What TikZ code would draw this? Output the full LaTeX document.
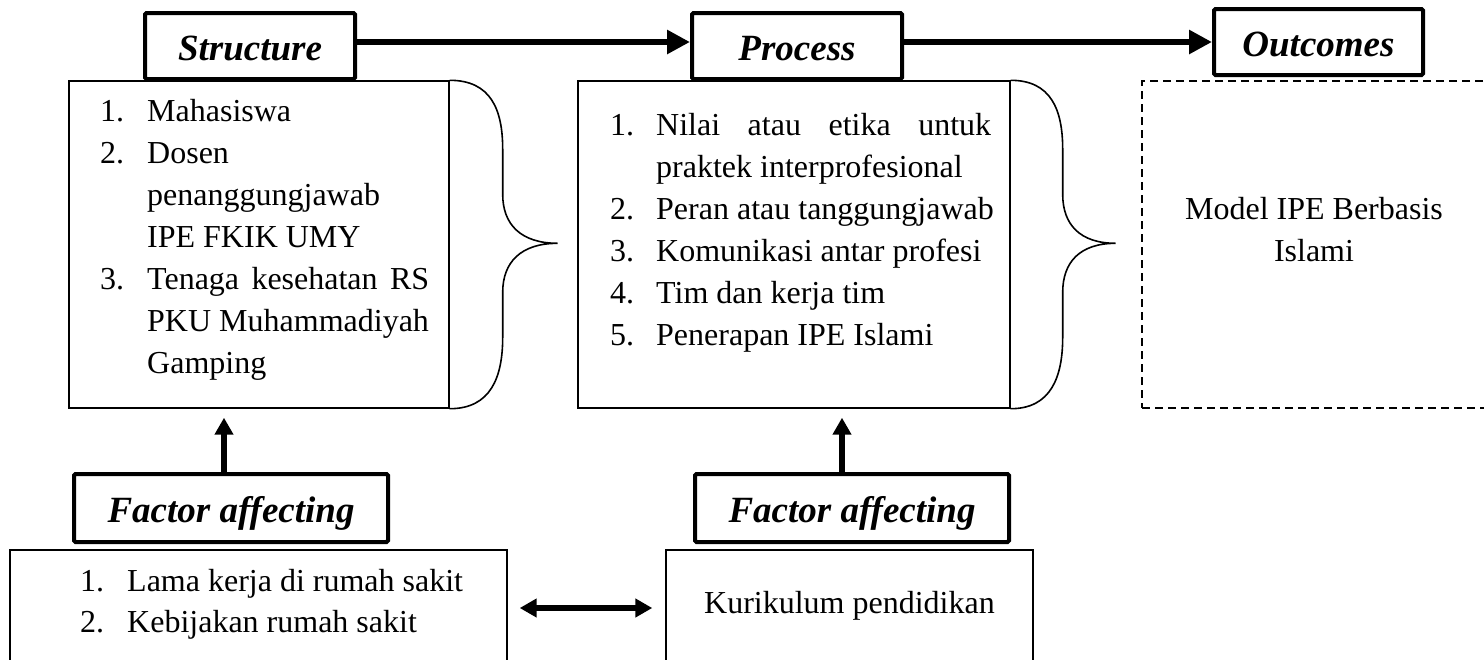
\documentclass[tikz,border=0pt]{standalone}
\usepackage{fontspec}
\setmainfont{Liberation Serif}
\usetikzlibrary{arrows.meta}
\begin{document}
\begin{tikzpicture}[x=1pt,y=-1pt,
  hdr/.style={draw,line width=4pt,fill=white,rounded corners=1.5pt,inner sep=0pt,
    font=\fontsize{37}{44}\selectfont\bfseries\itshape,text height=28pt,text depth=0pt},
  cbox/.style={draw,line width=1.4pt,inner sep=0pt},
  dbox/.style={draw,line width=1.4pt,inner sep=0pt,dash pattern=on 8pt off 5pt},
  body/.style={font=\fontsize{32}{42}\selectfont,inner sep=0pt,anchor=base west},
  bodyc/.style={font=\fontsize{32}{42}\selectfont,inner sep=0pt,anchor=base},
  brc/.style={line width=1.6pt},
  thickarr/.style={line width=6.5pt,-{Triangle[length=23pt,width=23pt]}},
  uparr/.style={line width=6pt,-{Triangle[length=17pt,width=18pt]}},
  dblarr/.style={line width=6pt,{Triangle[length=17pt,width=18pt]}-{Triangle[length=17pt,width=18pt]}}
]
\useasboundingbox (0,0) rectangle (1484,659);
\clip (0,0) rectangle (1484,659);

% content boxes
\node[cbox,minimum width=380pt,minimum height=327pt] (sbox) at (259,244.5) {};
\node[cbox,minimum width=432pt,minimum height=327pt] (pbox) at (794,244.5) {};
\node[dbox,minimum width=358pt,minimum height=327pt] (obox) at (1321,244.5) {};
\node[cbox,minimum width=497pt,minimum height=140pt] (fabox) at (258.5,620) {};
\node[cbox,minimum width=367pt,minimum height=140pt] (fbbox) at (849.5,620) {};

% headers
\node[hdr,minimum width=210pt,minimum height=66pt] (S) at (250,46) {Structure};
\node[hdr,minimum width=210pt,minimum height=66pt] (P) at (797,46) {Process};
\node[hdr,minimum width=209pt,minimum height=66pt] (O) at (1318.5,42) {Outcomes};
\node[hdr,minimum width=314pt,minimum height=68pt] (FA) at (231,508) {Factor affecting};
\node[hdr,minimum width=314pt,minimum height=68pt] (FB) at (852,508) {Factor affecting};

% braces
\draw[brc] (sbox.north east) .. controls +(41,0) and +(0,-40) .. ++(53,69) -- ++(0,45)
  .. controls +(0,30) and +(-37,0) .. ++(55,49) coordinate (stip)
  .. controls +(-37,0) and +(0,-30) .. ++(-55,49) -- ++(0,45)
  .. controls +(0,40) and +(41,0) .. (sbox.south east);
\draw[brc] (pbox.north east) .. controls +(40,0) and +(0,-40) .. ++(52,69) -- ++(0,45)
  .. controls +(0,30) and +(-36,0) .. ++(53,49) coordinate (ptip)
  .. controls +(-36,0) and +(0,-30) .. ++(-53,49) -- ++(0,45)
  .. controls +(0,40) and +(40,0) .. (pbox.south east);

% top arrows
\draw[thickarr] ([yshift=4pt]S.east) -- ([yshift=4pt]P.west);
\draw[thickarr] ([yshift=4pt]P.east) -- (O.west);

% up arrows
\coordinate (fa1) at ([xshift=-7pt]FA.north);
\coordinate (fb1) at ([xshift=-10pt]FB.north);
\draw[uparr,shorten >=9pt] (fa1) -- (fa1 |- sbox.south);
\draw[uparr,shorten >=9pt] (fb1) -- (fb1 |- pbox.south);

% double arrow
\draw[dblarr,shorten <=12pt,shorten >=13pt] ([yshift=12pt]fabox.east) -- ([yshift=12pt]fbbox.west);

% structure list
\node[body] (s1n) at (100,121) {1.};
\node[body] (s1) at (147,121) {Mahasiswa};
\node[body] (s2n) at (100,163) {2.};
\node[body] (s2a) at (147,163) {Dosen};
\node[body] (s2b) at (147,205) {penanggungjawab};
\node[body] (s2c) at (147,247) {IPE FKIK UMY};
\node[body] (s3n) at (100,289) {3.};
\node[body] (s3a) at (147,289) {\makebox[282pt][s]{Tenaga kesehatan RS}};
\node[body] (s3b) at (147,331) {PKU Muhammadiyah};
\node[body] (s3c) at (147,373) {Gamping};

% process list
\node[body] (p1n) at (610,135) {1.};
\node[body] (p1a) at (656,135) {\makebox[335pt][s]{Nilai atau etika untuk}};
\node[body] (p1b) at (656,177) {praktek interprofesional};
\node[body] (p2n) at (610,219) {2.};
\node[body] (p2) at (656,219) {Peran atau tanggungjawab};
\node[body] (p3n) at (610,261) {3.};
\node[body] (p3) at (656,261) {Komunikasi antar profesi};
\node[body] (p4n) at (610,303) {4.};
\node[body] (p4) at (656,303) {Tim dan kerja tim};
\node[body] (p5n) at (610,345) {5.};
\node[body] (p5) at (656,345) {Penerapan IPE Islami};

% outcomes
\node[bodyc] (o1) at (1314,219) {Model IPE Berbasis};
\node[bodyc] (o2) at (1314,261) {Islami};

% factor lists
\node[body] (f1n) at (80,591) {1.};
\node[body] (f1) at (127,591) {Lama kerja di rumah sakit};
\node[body] (f2n) at (80,632) {2.};
\node[body] (f2) at (127,632) {Kebijakan rumah sakit};
\node[bodyc] (k1) at (849.5,613) {Kurikulum pendidikan};
\end{tikzpicture}
\end{document}
